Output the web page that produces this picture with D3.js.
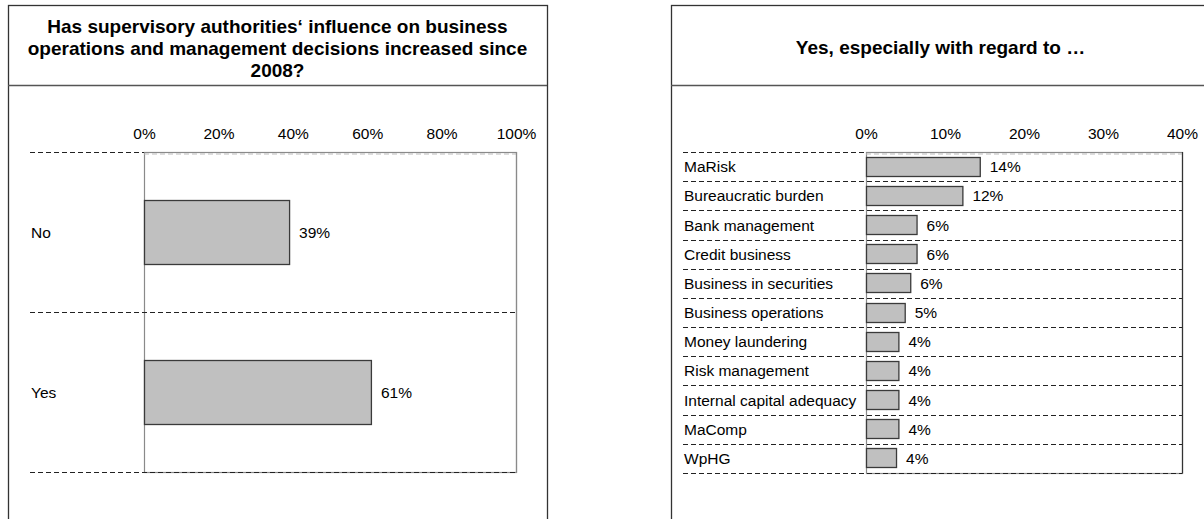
<!DOCTYPE html>
<html>
<head>
<meta charset="utf-8">
<script src="https://cdn.jsdelivr.net/npm/d3@7"></script>
<style>
  html, body { margin: 0; padding: 0; background: #fff; }
  svg { display: block; font-family: "Liberation Sans", Arial, sans-serif; }
</style>
</head>
<body>
<svg id="chart" width="1204" height="519"></svg>
<script>
// Survey answers: has supervisory influence increased since 2008?
const answerCategories = ["No", "Yes"];
const answerShares = [39, 61];
const answerTicks = [0, 20, 40, 60, 80, 100];

// Follow-up: areas where the influence grew (share of respondents, %)
const areaCategories = [
  "MaRisk", "Bureaucratic burden", "Bank management", "Credit business",
  "Business in securities", "Business operations", "Money laundering",
  "Risk management", "Internal capital adequacy", "MaComp", "WpHG"
];
const areaShares = [14.4, 12.2, 6.4, 6.4, 5.6, 4.9, 4.1, 4.1, 4.1, 4.1, 3.8];
const areaTicks = [0, 10, 20, 30, 40];

const leftTitle = [
  "Has supervisory authorities\u2018 influence on business",
  "operations and management decisions increased since",
  "2008?"
];
const rightTitle = ["Yes, especially with regard to \u2026"];

const svg = d3.select("#chart");
const pct = d => d3.format(".0f")(d) + "%";

function panel(opts) {
  const g = svg.append("g");

  // outer frame and title band
  g.append("rect")
    .attr("x", opts.frameX + 0.5).attr("y", 5.5)
    .attr("width", opts.frameW).attr("height", 540)
    .attr("fill", "none").attr("stroke", "#333").attr("stroke-width", 1.3);
  g.append("line")
    .attr("x1", opts.frameX).attr("x2", opts.frameX + opts.frameW)
    .attr("y1", 85.5).attr("y2", 85.5)
    .attr("stroke", "#555").attr("stroke-width", 1.3);

  const cx = opts.frameX + opts.frameW / 2;
  const title = g.append("text")
    .attr("text-anchor", "middle")
    .attr("font-weight", "bold")
    .attr("font-size", 19)
    .attr("fill", "#000");
  title.selectAll("tspan").data(opts.title).join("tspan")
    .attr("x", cx)
    .attr("y", (d, i) => opts.titleY + i * 22)
    .text(d => d);

  const x = d3.scaleLinear().domain(opts.domain).range([opts.plotX0, opts.plotX1]);
  const y = d3.scaleBand().domain(opts.categories).range([opts.plotY0, opts.plotY1]).padding(0);

  // plot area border
  g.append("rect")
    .attr("x", opts.plotX0 + 0.5).attr("y", opts.plotY0 + 0.5)
    .attr("width", opts.plotX1 - opts.plotX0).attr("height", opts.plotY1 - opts.plotY0)
    .attr("fill", "#fff").attr("stroke", "#8a8a8a").attr("stroke-width", 1.2);
  g.append("line")
    .attr("x1", opts.plotX0).attr("x2", opts.plotX1)
    .attr("y1", opts.plotY0 + 2).attr("y2", opts.plotY0 + 2)
    .attr("stroke", "#bbb").attr("stroke-dasharray", "5,3");

  // category separators (dashed)
  const bounds = opts.categories.map(c => y(c)).concat([opts.plotY1]);
  g.selectAll("line.sep").data(bounds).join("line")
    .attr("class", "sep")
    .attr("x1", opts.labelX)
    .attr("x2", (d, i) => i === 0 ? opts.plotX0 : opts.plotX1)
    .attr("y1", d => Math.round(d) + 0.5).attr("y2", d => Math.round(d) + 0.5)
    .attr("stroke", "#222").attr("stroke-width", 1.1)
    .attr("stroke-dasharray", "5,3");

  // right and bottom edges of plot area
  g.append("line")
    .attr("x1", opts.plotX1 + 0.5).attr("x2", opts.plotX1 + 0.5)
    .attr("y1", opts.plotY0).attr("y2", opts.plotY1 + 0.5)
    .attr("stroke", opts.rightEdge).attr("stroke-width", 1.2);

  // value axis labels on top
  const axis = d3.axisTop(x).tickValues(opts.ticks).tickSize(0).tickPadding(0)
    .tickFormat(d => d + "%");
  const ax = g.append("g").attr("transform", `translate(0,${opts.tickY})`).call(axis);
  ax.select(".domain").remove();
  ax.selectAll("text").attr("font-size", 15.5).attr("fill", "#000")
    .attr("font-family", "Liberation Sans, Arial, sans-serif");

  // bars
  const bw = y.bandwidth();
  g.selectAll("rect.bar").data(opts.values).join("rect")
    .attr("class", "bar")
    .attr("x", x(0) + 0.5)
    .attr("y", (d, i) => Math.round(y(opts.categories[i]) + bw * opts.barOffset) + 0.5)
    .attr("width", d => x(d) - x(0))
    .attr("height", Math.round(bw * opts.barFrac))
    .attr("fill", "#c0c0c0").attr("stroke", "#3a3a3a").attr("stroke-width", 1.3);

  // value labels
  g.selectAll("text.val").data(opts.values).join("text")
    .attr("class", "val")
    .attr("x", d => x(d) + 10)
    .attr("y", (d, i) => y(opts.categories[i]) + bw / 2)
    .attr("dy", "0.36em")
    .attr("font-size", 15.5).attr("fill", "#000")
    .text(pct);

  // category labels
  g.selectAll("text.cat").data(opts.categories).join("text")
    .attr("class", "cat")
    .attr("x", opts.labelX + 1)
    .attr("y", d => y(d) + bw / 2)
    .attr("dy", "0.36em")
    .attr("font-size", 15.5).attr("fill", "#000")
    .text(d => d);
}

panel({
  frameX: 8, frameW: 539,
  title: leftTitle, titleY: 33,
  categories: answerCategories, values: answerShares,
  domain: [0, 100], ticks: answerTicks,
  plotX0: 144, plotX1: 516, plotY0: 152, plotY1: 472,
  labelX: 30, tickY: 139,
  barFrac: 0.4, barOffset: 0.3,
  rightEdge: "#8a8a8a"
});

panel({
  frameX: 671, frameW: 539,
  title: rightTitle, titleY: 54,
  categories: areaCategories, values: areaShares,
  domain: [0, 40], ticks: areaTicks,
  plotX0: 866, plotX1: 1182, plotY0: 152, plotY1: 473,
  labelX: 683, tickY: 139,
  barFrac: 0.65, barOffset: 0.16,
  rightEdge: "#333"
});
</script>
</body>
</html>
